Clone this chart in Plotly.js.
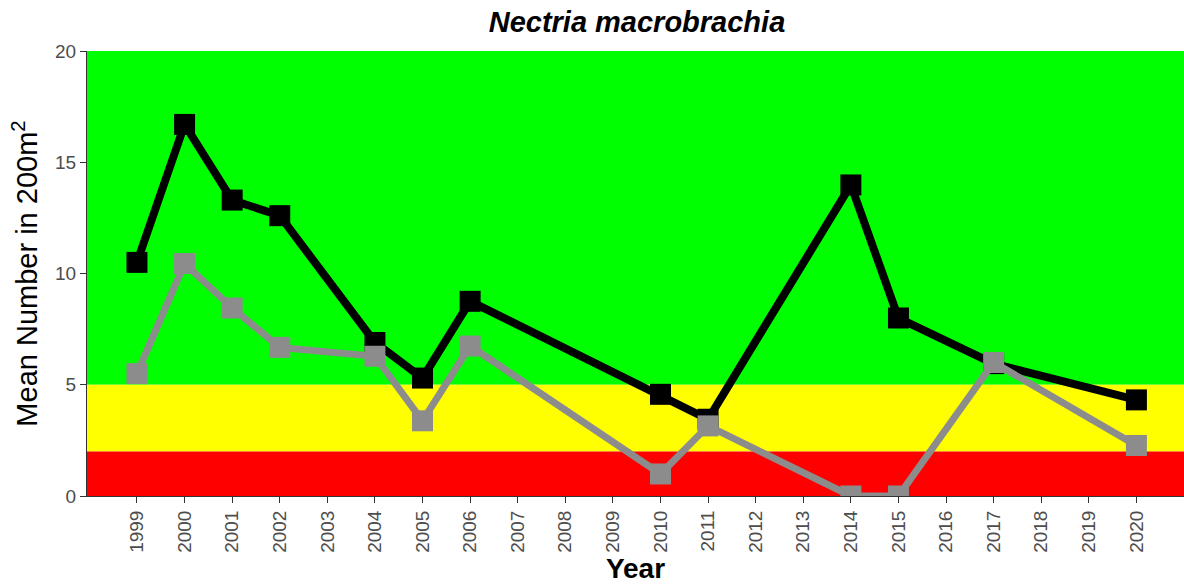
<!DOCTYPE html>
<html><head><meta charset="utf-8">
<script src="https://cdn.plot.ly/plotly-3.0.1.min.js"></script>
<style>html,body{margin:0;padding:0;background:#fff}#chart{width:1184px;height:586px}</style>
</head><body><div id="chart"></div>
<script>
const years = [1999,2000,2001,2002,2004,2005,2006,2010,2011,2014,2015,2017,2020];
const blackSeries = [10.5,16.7,13.3,12.6,6.9,5.3,8.75,4.57,3.45,13.98,8.0,5.95,4.32];
const greySeries = [5.5,10.45,8.45,6.68,6.28,3.38,6.74,0.99,3.15,0,0,6.0,2.27];
const tickYears = [1999,2000,2001,2002,2003,2004,2005,2006,2007,2008,2009,2010,2011,2012,2013,2014,2015,2016,2017,2018,2019,2020];
const bands = [{lo:5,hi:20,color:'#00FF00'},{lo:2,hi:5,color:'#FFFF00'},{lo:0,hi:2,color:'#FF0000'}];

const shapes = bands.map(b => ({type:'rect',xref:'paper',yref:'y',x0:0,x1:1,y0:b.lo,y1:b.hi,fillcolor:b.color,line:{width:0},layer:'below'}));

const traces = [
  {x:years,y:blackSeries,mode:'lines+markers',line:{color:'#000000',width:8},marker:{symbol:'square',size:21,color:'#000000'},showlegend:false},
  {x:years,y:greySeries,mode:'lines+markers',line:{color:'#8c8c8c',width:7},marker:{symbol:'square',size:21,color:'#8c8c8c'},showlegend:false}
];

const layout = {
  width:1184,height:586,
  margin:{l:87,r:0,t:51,b:90},
  paper_bgcolor:'#ffffff',plot_bgcolor:'#ffffff',
  font:{family:'"Liberation Sans", Arial, sans-serif'},
  title:{text:'<b><i>Nectria macrobrachia</i></b>',x:0.538,xanchor:'center',y:0.962,yanchor:'middle',font:{size:29,color:'#000000'}},
  xaxis:{range:[1997.95,2021.0],tickmode:'array',tickvals:tickYears,ticktext:tickYears.map(String),tickangle:-90,
    ticks:'outside',ticklen:6,tickcolor:'#333333',showline:true,linecolor:'#333333',linewidth:1,showgrid:false,zeroline:false,
    tickfont:{size:19,color:'#4d4d4d'},
    title:{text:'<b>Year</b>',font:{size:28,color:'#000000'},standoff:2}},
  yaxis:{range:[0,20],tickvals:[0,5,10,15,20],ticks:'outside',ticklen:6,tickcolor:'#333333',showline:true,linecolor:'#333333',linewidth:1,
    showgrid:false,zeroline:false,tickfont:{size:19,color:'#4d4d4d'},
    title:{text:'Mean Number in 200m<sup>2</sup>',font:{size:29,color:'#000000'},standoff:8}},
  shapes:shapes
};
Plotly.newPlot('chart',traces,layout,{staticPlot:true});
</script></body></html>
